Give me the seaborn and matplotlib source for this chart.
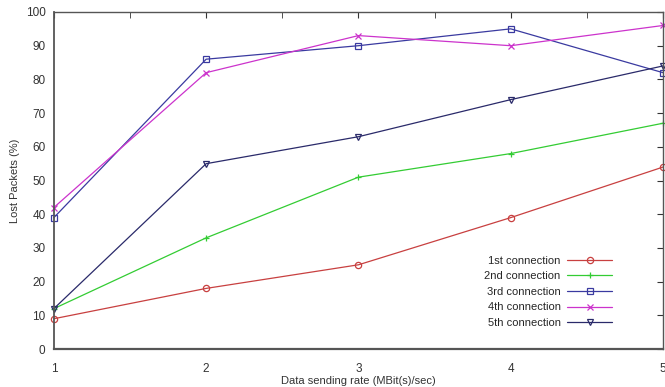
import pandas as pd
import matplotlib.pyplot as plt
import seaborn as sns
from matplotlib.ticker import MultipleLocator

# Values
rates = [1, 2, 3, 4, 5]
conn1 = [9, 18, 25, 39, 54]
conn2 = [12, 33, 51, 58, 67]
conn3 = [39, 86, 90, 95, 82]
conn4 = [42, 82, 93, 90, 96]
conn5 = [12, 55, 63, 74, 84]
labels = ['1st connection', '2nd connection', '3rd connection', '4th connection', '5th connection']

sns.set_style('white')
plt.rcParams['font.family'] = ['Liberation Sans', 'DejaVu Sans']

fig, ax = plt.subplots(figsize=(6.65, 3.87), dpi=100)
fig.subplots_adjust(left=0.081, right=0.997, bottom=0.098, top=0.969)

series = [conn1, conn2, conn3, conn4, conn5]
colors = ['#c84040', '#33cc33', '#3a3aa0', '#cc33cc', '#2a2a6a']
markers = ['o', '+', 's', 'x', 'v']
for vals, lab, col, mk in zip(series, labels, colors, markers):
    df = pd.DataFrame({'rate': rates, 'lost': vals})
    sns.lineplot(data=df, x='rate', y='lost', ax=ax, color=col, label=lab,
                 marker=mk, markersize=4.5, markerfacecolor='none',
                 markeredgecolor=col, markeredgewidth=0.9, linewidth=0.9,
                 clip_on=False)

ax.set_xlim(1, 5)
ax.set_ylim(0, 100)
ax.xaxis.set_major_locator(MultipleLocator(1))
ax.xaxis.set_minor_locator(MultipleLocator(0.5))
ax.yaxis.set_major_locator(MultipleLocator(10))
ax.tick_params(which='both', direction='in', top=True, right=True,
               labelsize=8.5, colors='#333333', length=4, pad=6)
ax.tick_params(axis='x', pad=10)
for s in ax.spines.values():
    s.set_color('#555555')
    s.set_linewidth(1.0)
ax.spines['bottom'].set_linewidth(1.6)
ax.spines['left'].set_linewidth(1.3)

ax.set_xlabel('Data sending rate (MBit(s)/sec)', fontsize=8, color='#333333', labelpad=1)
ax.set_ylabel('Lost Packets (%)', fontsize=8, color='#333333', labelpad=4)

ax.legend(loc='upper right', bbox_to_anchor=(0.935, 0.365), bbox_transform=fig.transFigure,
          frameon=False, markerfirst=False, fontsize=8, labelspacing=0.5,
          handlelength=4.0, handletextpad=0.6)

fig.savefig('out.png', dpi=100)
